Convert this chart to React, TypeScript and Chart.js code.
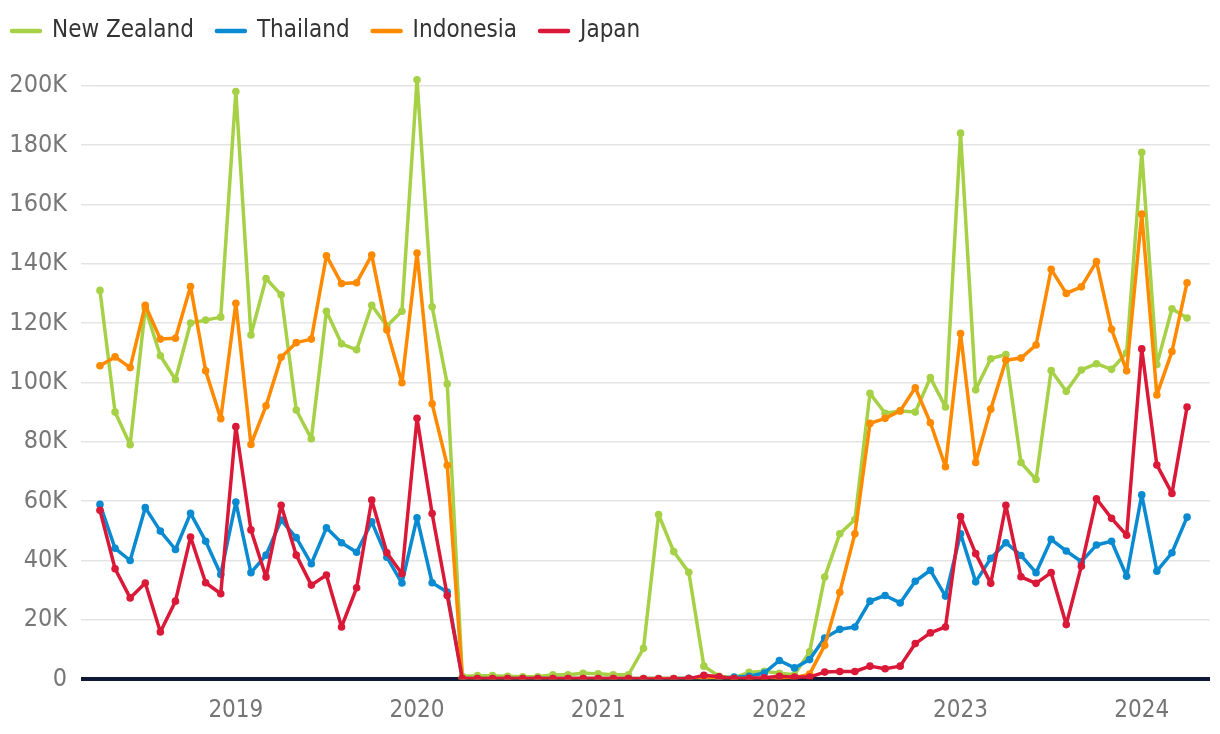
import React, { useEffect, useRef } from 'react';
import { Chart, registerables } from 'chart.js';

Chart.register(...registerables);

const months = [
  '2018-04', '2018-05', '2018-06', '2018-07', '2018-08', '2018-09', '2018-10', '2018-11', '2018-12',
  '2019-01', '2019-02', '2019-03', '2019-04', '2019-05', '2019-06', '2019-07', '2019-08', '2019-09', '2019-10', '2019-11', '2019-12',
  '2020-01', '2020-02', '2020-03', '2020-04', '2020-05', '2020-06', '2020-07', '2020-08', '2020-09', '2020-10', '2020-11', '2020-12',
  '2021-01', '2021-02', '2021-03', '2021-04', '2021-05', '2021-06', '2021-07', '2021-08', '2021-09', '2021-10', '2021-11', '2021-12',
  '2022-01', '2022-02', '2022-03', '2022-04', '2022-05', '2022-06', '2022-07', '2022-08', '2022-09', '2022-10', '2022-11', '2022-12',
  '2023-01', '2023-02', '2023-03', '2023-04', '2023-05', '2023-06', '2023-07', '2023-08', '2023-09', '2023-10', '2023-11', '2023-12',
  '2024-01', '2024-02', '2024-03', '2024-04',
];

const yearTickLabels = ['2019', '2020', '2021', '2022', '2023', '2024'];

// values in thousands of visitors
const newZealand = [
  131, 90, 79, 125, 109, 101, 120, 121, 122,
  198, 116, 135, 129.5, 90.7, 81, 124, 113, 111, 126, 119, 124,
  202, 125.5, 99.5, 1.0, 1.2, 1.2, 1.0, 0.8, 0.8, 1.5, 1.5, 2.0,
  1.8, 1.5, 1.5, 10.4, 55.5, 43, 36, 4.4, 1.0, 0.5, 2.3, 2.7,
  2.0, 1.5, 9.2, 34.4, 49, 53.8, 96.3, 89.6, 90.4, 90, 101.6, 91.7,
  184, 97.5, 108, 109.4, 73, 67.3, 104, 97, 104.2, 106.3, 104.4, 110,
  177.5, 106, 124.8, 121.7,
];

const thailand = [
  58.9, 44.1, 40, 57.8, 49.9, 43.7, 55.9, 46.5, 35.3,
  59.7, 35.9, 41.8, 53.6, 47.7, 38.9, 51, 46, 42.8, 53, 41.1, 32.4,
  54.4, 32.5, 29.4, 0.3, 0.2, 0.2, 0.2, 0.2, 0.2, 0.2, 0.2, 0.2,
  0.2, 0.2, 0.2, 0.2, 0.2, 0.2, 0.3, 0.3, 0.4, 0.7, 1.0, 2.1,
  6.3, 3.8, 6.6, 13.9, 16.8, 17.6, 26.3, 28.2, 25.7, 33, 36.7, 28,
  49, 32.8, 40.7, 46, 41.7, 35.9, 47.1, 43.2, 39.6, 45.2, 46.5, 34.7,
  62.1, 36.4, 42.6, 54.6,
];

const indonesia = [
  105.6, 108.6, 105, 126, 114.6, 114.9, 132.3, 103.9, 87.8,
  126.7, 79.1, 92.1, 108.5, 113.4, 114.6, 142.7, 133.3, 133.6, 142.9, 117.7, 99.9,
  143.6, 92.8, 72.1, 0.3, 0.2, 0.2, 0.2, 0.2, 0.2, 0.2, 0.2, 0.2,
  0.2, 0.2, 0.2, 0.2, 0.2, 0.2, 0.2, 0.2, 0.2, 0.2, 0.2, 0.3,
  0.3, 0.5, 1.7, 11.4, 29.3, 49, 86.2, 87.9, 90.4, 98.2, 86.4, 71.6,
  116.5, 73, 91, 107.5, 108.2, 112.6, 138.1, 130, 132.2, 140.7, 117.9, 103.9,
  156.7, 95.8, 110.4, 133.6,
];

const japan = [
  56.9, 37.2, 27.4, 32.4, 15.9, 26.3, 47.9, 32.5, 28.8,
  85.1, 50.3, 34.4, 58.6, 41.8, 31.7, 35.1, 17.6, 30.8, 60.4, 42.6, 35.5,
  87.9, 55.8, 28.2, 0.2, 0.2, 0.2, 0.2, 0.2, 0.2, 0.2, 0.2, 0.2,
  0.2, 0.2, 0.2, 0.1, 0.1, 0.1, 0.2, 1.3, 0.8, 0.2, 0.3, 0.5,
  1.0, 0.7, 0.7, 2.4, 2.6, 2.6, 4.4, 3.5, 4.4, 12, 15.6, 17.6,
  54.8, 42.3, 32.3, 58.6, 34.5, 32.3, 35.9, 18.4, 38.1, 60.8, 54.2, 48.5,
  111.3, 72.2, 62.6, 91.7,
];

const seriesNames = ['New Zealand', 'Thailand', 'Indonesia', 'Japan'];
const seriesColors = ['#a6d146', '#0a8bd1', '#ff8a00', '#da1837'];

const FONT = "'Liberation Sans Narrow', 'DejaVu Sans Condensed', 'Noto Sans', sans-serif";

export default function App() {
  const ref = useRef<HTMLCanvasElement>(null);

  useEffect(() => {
    document.body.style.margin = '0';
    const canvas = ref.current;
    if (!canvas) return;
    const all = [newZealand, thailand, indonesia, japan];
    const janIdx = months.map((m, i) => (m.endsWith('-01') ? i : -1)).filter((i) => i >= 0);

    const datasets = all.map((vals, k) => ({
      label: seriesNames[k],
      data: vals.map((v, i) => ({ x: i, y: v })),
      borderColor: seriesColors[k],
      backgroundColor: seriesColors[k],
      borderWidth: 3.5,
      borderCapStyle: 'round' as const,
      borderJoinStyle: 'round' as const,
      pointRadius: 3.8,
      pointBorderWidth: 0,
      pointHoverRadius: 4,
      tension: 0,
      order: 4 - k,
    }));

    const chart = new Chart(canvas, {
      type: 'line',
      data: { datasets },
      options: {
        animation: false,
        responsive: false,
        maintainAspectRatio: false,
        layout: { padding: { left: -11, right: 10, top: -4, bottom: -8 } },
        plugins: {
          legend: {
            position: 'top',
            align: 'start',
            labels: {
              usePointStyle: true,
              pointStyle: 'line',
              pointStyleWidth: 28,
              color: '#333333',
              padding: 23,
              font: { family: FONT, size: 24 },
              sort: (a: any, b: any) => a.datasetIndex - b.datasetIndex,
              generateLabels: (ch: any) =>
                ch.data.datasets.map((ds: any, i: number) => ({
                  text: ds.label,
                  datasetIndex: i,
                  fillStyle: ds.borderColor,
                  strokeStyle: ds.borderColor,
                  fontColor: '#333333',
                  lineWidth: 4.5,
                  lineCap: 'round',
                  pointStyle: 'line',
                  hidden: false,
                })),
            },
          },
          tooltip: { enabled: false },
        },
        scales: {
          x: {
            type: 'linear',
            min: -0.66,
            max: 73.52,
            afterBuildTicks: (scale: any) => {
              scale.ticks = janIdx.map((v) => ({ value: v }));
            },
            ticks: {
              autoSkip: false,
              maxRotation: 0,
              padding: 17,
              color: '#757575',
              font: { family: FONT, size: 24 },
              callback: (v: any) => {
                const k = janIdx.indexOf(Number(v));
                return k >= 0 ? yearTickLabels[k] : '';
              },
            },
            grid: { display: false, drawTicks: false },
            border: { display: false },
          },
          y: {
            min: 0,
            max: 211,
            afterFit: (scale: any) => {
              scale.width = 101;
            },
            ticks: {
              stepSize: 20,
              includeBounds: false,
              padding: 14,
              color: '#777777',
              font: { family: FONT, size: 25 },
              callback: (v: any) => (Number(v) === 0 ? '0' : `${v}K`),
            },
            grid: {
              color: (c: any) => (c.tick && c.tick.value === 0 ? '#0e1a35' : '#e4e4e4'),
              lineWidth: (c: any) => (c.tick && c.tick.value === 0 ? 4 : 1.5),
              tickLength: 9,
            },
            border: { display: false },
          },
        },
      },
    });
    return () => chart.destroy();
  }, []);

  return <canvas ref={ref} width={1220} height={734} style={{ display: 'block' }} />;
}
